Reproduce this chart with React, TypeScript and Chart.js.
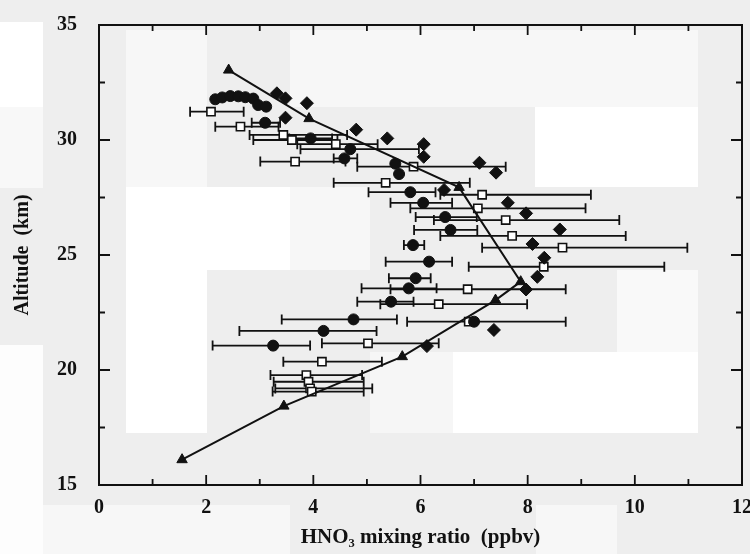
import React, { useEffect, useRef } from "react";
import { Chart, registerables } from "chart.js";

Chart.register(...registerables);

// ---- axis ticks ----
const xTickValues = [0, 1, 2, 3, 4, 5, 6, 7, 8, 9, 10, 11, 12];
const yTickValues = [15, 17.5, 20, 22.5, 25, 27.5, 30, 32.5, 35];

// ---- model profile (triangles joined by a line) ----
const triX = [2.42, 3.92, 6.72, 7.87, 7.4, 5.66, 3.45, 1.55];
const triY = [33.04, 30.93, 27.94, 23.84, 23.04, 20.58, 18.43, 16.1];

// ---- open squares with horizontal error bars ----
const sqX = [2.09, 2.64, 3.44, 3.6, 4.42, 3.66, 5.87, 5.35, 7.15, 7.07, 7.59, 7.71, 8.65, 8.3, 6.88, 6.34, 6.9, 5.02, 4.16, 3.87, 3.91, 3.94, 3.97];
const sqY = [31.23, 30.58, 30.22, 30.0, 29.82, 29.06, 28.84, 28.14, 27.62, 27.03, 26.52, 25.83, 25.32, 24.49, 23.51, 22.86, 22.1, 21.16, 20.36, 19.78, 19.49, 19.2, 19.06];
const sqLo = [1.7, 2.17, 2.81, 2.88, 3.7, 3.01, 4.82, 4.38, 6.37, 5.81, 6.25, 6.37, 7.15, 6.9, 5.44, 5.25, 5.75, 4.16, 3.44, 3.2, 3.26, 3.29, 3.24];
const sqHi = [2.7, 3.35, 4.63, 4.45, 5.2, 4.6, 7.59, 6.92, 9.18, 9.08, 9.71, 9.83, 10.98, 10.55, 8.71, 7.99, 8.71, 6.34, 5.28, 4.91, 4.94, 5.1, 4.94];

// ---- filled circles with horizontal error bars (null = no bar) ----
const ciX = [2.17, 2.3, 2.45, 2.6, 2.73, 2.88, 2.97, 3.12, 3.1, 3.95, 4.69, 4.58, 5.53, 5.6, 5.81, 6.05, 6.46, 6.56, 5.86, 6.16, 5.91, 5.78, 5.45, 4.75, 4.19, 3.25, 7.0];
const ciY = [31.77, 31.85, 31.91, 31.9, 31.86, 31.8, 31.52, 31.45, 30.75, 30.07, 29.6, 29.2, 28.97, 28.52, 27.73, 27.27, 26.65, 26.09, 25.43, 24.71, 23.99, 23.55, 22.97, 22.2, 21.7, 21.06, 22.1];
const ciLo = [null, null, null, null, null, null, null, null, 2.85, 3.55, 3.76, 4.38, null, null, 5.03, 5.44, 5.91, 5.88, 5.69, 5.35, 5.41, 4.9, 4.82, 3.41, 2.62, 2.12, null];
const ciHi = [null, null, null, null, null, null, null, null, 3.38, 4.35, 5.97, 4.82, null, null, 6.28, 6.59, 7.05, 7.06, 6.07, 6.59, 6.19, 6.3, 5.87, 5.56, 5.18, 3.94, null];

// ---- filled diamonds ----
const diX = [3.32, 3.48, 3.88, 3.48, 4.8, 5.38, 6.06, 6.06, 7.1, 7.41, 6.44, 7.63, 7.97, 8.6, 8.09, 8.31, 8.18, 7.97, 7.37, 6.12];
const diY = [32.03, 31.81, 31.6, 30.97, 30.45, 30.07, 29.82, 29.27, 29.01, 28.58, 27.83, 27.27, 26.81, 26.11, 25.48, 24.88, 24.05, 23.5, 21.74, 21.04];

const FONT = "'Liberation Serif', 'Times New Roman', Times, serif";

const toPts = (xs: number[], ys: number[]) => xs.map((x, i) => ({ x, y: ys[i] }));

const backgroundPlugin = {
  id: "scanBackground",
  beforeDraw(chart: any) {
    const ctx = chart.ctx;
    ctx.save();
    ctx.fillStyle = "#eeeeee";
    ctx.fillRect(0, 0, chart.width, chart.height);
    const patches: [number, number, number, number, string][] = [
      [0, 22, 43, 107, "#ffffff"],
      [0, 107, 43, 188, "#f8f8f8"],
      [0, 345, 43, 554, "#fdfdfd"],
      [43, 505, 290, 554, "#f7f7f7"],
      [536, 505, 617, 554, "#f7f7f7"],
      [126, 30, 207, 187, "#f7f7f7"],
      [290, 30, 698, 107, "#f7f7f7"],
      [535, 107, 698, 187, "#ffffff"],
      [126, 187, 290, 270, "#ffffff"],
      [126, 270, 207, 433, "#ffffff"],
      [290, 187, 370, 270, "#f7f7f7"],
      [370, 352, 453, 433, "#f6f6f6"],
      [453, 352, 698, 433, "#ffffff"],
      [617, 270, 698, 352, "#f9f9f9"],
    ];
    for (const [x1, y1, x2, y2, c] of patches) {
      ctx.fillStyle = c;
      ctx.fillRect(x1, y1, x2 - x1, y2 - y1);
    }
    ctx.restore();
  },
};

const errorBarPlugin = {
  id: "hErrorBars",
  beforeDatasetsDraw(chart: any) {
    const ctx = chart.ctx;
    const xs = chart.scales.x;
    const ys = chart.scales.y;
    ctx.save();
    ctx.strokeStyle = "#111";
    ctx.lineWidth = 1.8;
    chart.data.datasets.forEach((ds: any) => {
      if (!ds.errLo) return;
      ds.data.forEach((p: any, i: number) => {
        const lo = ds.errLo[i];
        const hi = ds.errHi[i];
        if (lo == null || hi == null) return;
        const y = ys.getPixelForValue(p.y);
        const x1 = xs.getPixelForValue(lo);
        const x2 = xs.getPixelForValue(hi);
        ctx.beginPath();
        ctx.moveTo(x1, y);
        ctx.lineTo(x2, y);
        ctx.moveTo(x1, y - 5);
        ctx.lineTo(x1, y + 5);
        ctx.moveTo(x2, y - 5);
        ctx.lineTo(x2, y + 5);
        ctx.stroke();
      });
    });
    ctx.restore();
  },
};

const frameTicksPlugin = {
  id: "frameTicks",
  afterDraw(chart: any) {
    const ctx = chart.ctx;
    const { left, right, top, bottom } = chart.chartArea;
    const xs = chart.scales.x;
    const ys = chart.scales.y;
    ctx.save();
    ctx.strokeStyle = "#111";
    ctx.lineWidth = 2;
    ctx.strokeRect(left, top, right - left, bottom - top);
    ctx.lineWidth = 1.8;
    ctx.beginPath();
    xTickValues.forEach((v) => {
      const px = xs.getPixelForValue(v);
      const len = v % 2 === 0 ? 10 : 6;
      ctx.moveTo(px, bottom);
      ctx.lineTo(px, bottom - len);
      ctx.moveTo(px, top);
      ctx.lineTo(px, top + len);
    });
    yTickValues.forEach((v) => {
      const py = ys.getPixelForValue(v);
      const len = v % 5 === 0 ? 11 : 6;
      ctx.moveTo(left, py);
      ctx.lineTo(left + len, py);
      ctx.moveTo(right, py);
      ctx.lineTo(right - len, py);
    });
    ctx.stroke();
    ctx.restore();
  },
};

export default function App() {
  const ref = useRef<HTMLCanvasElement | null>(null);

  useEffect(() => {
    if (!ref.current) return;
    const chart = new Chart(ref.current, {
      type: "scatter",
      data: {
        datasets: [
          {
            label: "model",
            data: toPts(triX, triY),
            showLine: true,
            borderColor: "#111",
            borderWidth: 2,
            pointStyle: "triangle",
            pointRadius: 6,
            pointBackgroundColor: "#111",
            pointBorderColor: "#111",
            pointBorderWidth: 1,
          },
          {
            label: "diamonds",
            data: toPts(diX, diY),
            pointStyle: "rectRot",
            pointRadius: 6.5,
            pointBackgroundColor: "#111",
            pointBorderColor: "#111",
            pointBorderWidth: 1,
          },
          {
            label: "circles",
            data: toPts(ciX, ciY),
            errLo: ciLo,
            errHi: ciHi,
            pointStyle: "circle",
            pointRadius: 5.5,
            pointBackgroundColor: "#111",
            pointBorderColor: "#111",
            pointBorderWidth: 1,
          } as any,
          {
            label: "squares",
            data: toPts(sqX, sqY),
            errLo: sqLo,
            errHi: sqHi,
            pointStyle: "rect",
            pointRadius: 5.8,
            pointBackgroundColor: "#ffffff",
            pointBorderColor: "#111",
            pointBorderWidth: 1.6,
          } as any,
        ],
      },
      options: {
        responsive: false,
        animation: false,
        devicePixelRatio: 1,
        layout: { autoPadding: false, padding: { left: 0, right: 8, top: 25, bottom: 0 } },
        plugins: { legend: { display: false }, tooltip: { enabled: false } },
        scales: {
          x: {
            type: "linear",
            position: "bottom",
            min: 0,
            max: 12,
            afterFit: (s: any) => {
              s.height = 69;
              s.paddingLeft = 0;
              s.paddingRight = 0;
            },
            grid: { display: false, drawTicks: false },
            border: { display: false },
            ticks: {
              stepSize: 2,
              padding: 11,
              color: "#111",
              font: { family: FONT, size: 20, weight: "bold" },
            },
            title: {
              display: true,
              text: "HNO\u2083 mixing ratio  (ppbv)",
              color: "#111",
              font: { family: FONT, size: 21, weight: "bold" },
              padding: { top: 0, bottom: 4 },
            },
          },
          y: {
            type: "linear",
            position: "left",
            min: 15,
            max: 35,
            afterFit: (s: any) => {
              s.width = 99;
              s.paddingTop = 0;
              s.paddingBottom = 0;
            },
            grid: { display: false, drawTicks: false },
            border: { display: false },
            ticks: {
              stepSize: 5,
              padding: 22,
              color: "#111",
              font: { family: FONT, size: 20, weight: "bold" },
            },
            title: {
              display: true,
              text: "Altitude  (km)",
              color: "#111",
              font: { family: FONT, size: 20, weight: "bold" },
              padding: { top: 11, bottom: 0 },
            },
          },
        },
      },
      plugins: [backgroundPlugin, errorBarPlugin, frameTicksPlugin],
    } as any);
    return () => chart.destroy();
  }, []);

  return (
    <div style={{ position: "absolute", left: 0, top: 0, width: 750, height: 554 }}>
      <canvas ref={ref} width={750} height={554} style={{ width: 750, height: 554, display: "block" }} />
    </div>
  );
}
